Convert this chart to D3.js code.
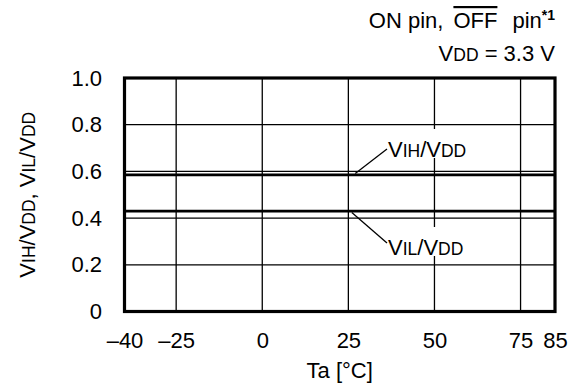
<!DOCTYPE html>
<html lang="en">
<head>
  <meta charset="UTF-8">
  <title>VIH/VDD, VIL/VDD vs Ta</title>
  <style>
    body { margin: 0; background: #fff; }
    text { font-family: "Liberation Sans", Arial, sans-serif; fill: #000; }
  </style>
</head>
<body>
  <script src="https://d3js.org/d3.v7.min.js"></script>
  <div id="chart"></div>

  <script>
    // values
    const temps = [-40, -25, 0, 25, 50, 75, 85]
    const vihRatio = [0.585, 0.585, 0.585, 0.585, 0.585, 0.585, 0.585]
    const vilRatio = [0.43, 0.43, 0.43, 0.43, 0.43, 0.43, 0.43]
    const xTicks = [-40, -25, 0, 25, 50, 75, 85]
    const yTicks = [0, 0.2, 0.4, 0.6, 0.8, 1.0]

    const W = 577, H = 389
    const pLeft = 124.5, pRight = 555, pTop = 78, pBottom = 311.5
    const FS = 22, SUB = 17.5

    const svg = d3.select('#chart')
      .append('svg')
      .attr('width', W)
      .attr('height', H)

    const x = d3.scaleLinear().domain([-40, 85]).range([pLeft, pRight])
    const y = d3.scaleLinear().domain([0, 1]).range([pBottom, pTop])

    // grid
    svg.append('g')
      .selectAll('line')
      .data(xTicks.slice(1, -1))
      .join('line')
      .attr('x1', d => x(d)).attr('x2', d => x(d))
      .attr('y1', pTop).attr('y2', pBottom)
      .attr('stroke', '#000').attr('stroke-width', 1.3)

    svg.append('g')
      .selectAll('line')
      .data(yTicks.slice(1, -1))
      .join('line')
      .attr('x1', pLeft).attr('x2', pRight)
      .attr('y1', d => y(d)).attr('y2', d => y(d))
      .attr('stroke', '#000').attr('stroke-width', 1.3)

    // data lines
    const line = d3.line().x(d => x(d[0])).y(d => y(d[1]))
    ;[vihRatio, vilRatio].forEach(vals => {
      svg.append('path')
        .datum(temps.map((t, i) => [t, vals[i]]))
        .attr('d', line)
        .attr('fill', 'none')
        .attr('stroke', '#000')
        .attr('stroke-width', 2.8)
    })

    // frame
    svg.append('rect')
      .attr('x', pLeft).attr('y', pTop)
      .attr('width', pRight - pLeft).attr('height', pBottom - pTop)
      .attr('fill', 'none')
      .attr('stroke', '#000')
      .attr('stroke-width', 3.2)

    // axes (labels only)
    const fmtX = d => d < 0 ? '\u2013' + (-d) : String(d)
    const xAxis = svg.append('g')
      .attr('transform', `translate(0, ${pBottom})`)
      .call(d3.axisBottom(x).tickValues(xTicks).tickFormat(fmtX).tickSize(0).tickPadding(21))
    xAxis.select('.domain').remove()

    const yAxis = svg.append('g')
      .attr('transform', `translate(${pLeft}, 0)`)
      .call(d3.axisLeft(y).tickValues(yTicks).tickFormat(d => d === 0 ? '0' : d.toFixed(1)).tickSize(0).tickPadding(22.5))
    yAxis.select('.domain').remove()

    svg.selectAll('.tick text')
      .attr('font-family', '"Liberation Sans", Arial, sans-serif')
      .attr('font-size', FS)
      .attr('fill', '#000')

    // axis titles
    svg.append('text')
      .attr('x', (pLeft + pRight) / 2).attr('y', 378)
      .attr('text-anchor', 'middle')
      .attr('font-size', FS)
      .text('Ta [°C]')

    const yt = svg.append('text')
      .attr('transform', `translate(35, ${(pTop + pBottom) / 2}) rotate(-90)`)
      .attr('text-anchor', 'middle')
      .attr('font-size', FS)
    yt.append('tspan').text('V')
    yt.append('tspan').attr('font-size', SUB).text('IH')
    yt.append('tspan').text('/V')
    yt.append('tspan').attr('font-size', SUB).text('DD')
    yt.append('tspan').text(', V')
    yt.append('tspan').attr('font-size', SUB).text('IL')
    yt.append('tspan').text('/V')
    yt.append('tspan').attr('font-size', SUB).text('DD')

    // conditions
    const c1 = svg.append('text')
      .attr('x', 555).attr('y', 28)
      .attr('text-anchor', 'end')
      .attr('font-size', FS)
    c1.append('tspan').text('ON pin,')
    c1.append('tspan').attr('dx', 10).attr('text-decoration', 'overline').text('OFF')
    c1.append('tspan').attr('dx', 15).text('pin')
    c1.append('tspan').attr('font-size', 14).attr('font-weight', 'bold').attr('dy', -8).text('*1')

    const c2 = svg.append('text')
      .attr('x', 555).attr('y', 61)
      .attr('text-anchor', 'end')
      .attr('font-size', FS)
    c2.append('tspan').text('V')
    c2.append('tspan').attr('font-size', SUB).text('DD')
    c2.append('tspan').text(' = 3.3 V')

    // series labels with leaders
    const labels = [
      { sub: 'IH', tx: 388, ty: 157, from: [x(27), y(vihRatio[4]) - 1.5], to: [387, 149] },
      { sub: 'IL', tx: 388, ty: 255, from: [x(26), y(vilRatio[4]) + 1.5], to: [387, 243] }
    ]
    labels.forEach(l => {
      svg.append('rect')
        .attr('x', l.tx + 2).attr('y', l.ty - 28)
        .attr('width', 78).attr('height', 29)
        .attr('fill', '#fff')
      svg.append('line')
        .attr('x1', l.from[0]).attr('y1', l.from[1])
        .attr('x2', l.to[0]).attr('y2', l.to[1])
        .attr('stroke', '#000').attr('stroke-width', 1.3)
      const t = svg.append('text')
        .attr('x', l.tx).attr('y', l.ty)
        .attr('font-size', FS)
      t.append('tspan').text('V')
      t.append('tspan').attr('font-size', SUB).text(l.sub)
      t.append('tspan').text('/V')
      t.append('tspan').attr('font-size', SUB).text('DD')
    })
  </script>
</body>
</html>
